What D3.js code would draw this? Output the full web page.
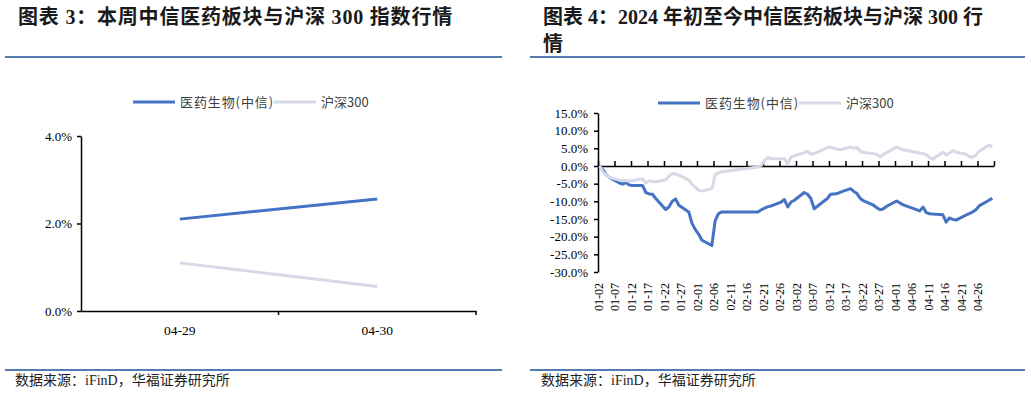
<!DOCTYPE html>
<html lang="zh">
<head>
<meta charset="UTF-8">
<title>中信医药板块与沪深300行情</title>
<script src="https://d3js.org/d3.v7.min.js"></script>
<style>
  body { margin: 0; background: #fff; }
  svg { display: block; font-family: "Liberation Serif", "Noto Sans CJK SC", serif; }
  .title { font-size: 20px; font-weight: bold; fill: #1a1a1a; font-family: "Liberation Serif", "Noto Sans CJK SC", serif; }
  .source { font-size: 14px; fill: #222; font-family: "Liberation Serif", "Noto Sans CJK SC", serif; }
  .rule { stroke: #1c4f9c; stroke-width: 1.3px; }
  .axis path, .axis line { stroke: #000; stroke-width: 1.5px; }
  .axis text { font-family: "Liberation Serif", serif; fill: #000; }
  .legend text { font-family: "Noto Sans CJK SC", sans-serif; font-size: 13px; fill: #404040; }
  .line { fill: none; stroke-width: 3px; stroke-linejoin: round; }
</style>
</head>
<body>
<script>
// ---- data ----
const seriesNames = ["医药生物(中信)", "沪深300"];
const seriesColors = ["#4472c4", "#d6dae6"];

// 图表3: this week
const weekCats = ["04-29", "04-30"];
const weekPharma = [2.10, 2.56];
const weekHs300 = [1.10, 0.56];
const weekYTicks = [0, 2, 4];

// 图表4: 2024 year to date (trading days)
const ytdDates = [
  "01-02","01-03","01-04","01-05","01-08","01-09","01-10","01-11","01-12","01-15",
  "01-16","01-17","01-18","01-19","01-22","01-23","01-24","01-25","01-26","01-29",
  "01-30","01-31","02-01","02-02","02-05","02-06","02-07","02-08","02-19","02-20",
  "02-21","02-22","02-23","02-26","02-27","02-28","02-29","03-01","03-04","03-05",
  "03-06","03-07","03-08","03-11","03-12","03-13","03-14","03-15","03-18","03-19",
  "03-20","03-21","03-22","03-25","03-26","03-27","03-28","03-29","04-01","04-02",
  "04-03","04-08","04-09","04-10","04-11","04-12","04-15","04-16","04-17","04-18",
  "04-19","04-22","04-23","04-24","04-25","04-26","04-29","04-30"
];
const ytdPharma = [
  0.0, -1.1, -2.5, -3.3, -4.8, -5.1, -4.7, -5.4, -5.5, -5.5,
  -7.5, -7.9, -8.0, -9.2, -12.3, -11.6, -10.0, -9.3, -11.1, -13.0,
  -16.3, -18.0, -19.3, -21.0, -22.5, -15.5, -13.5, -13.0, -13.0, -12.4,
  -11.9, -11.5, -11.3, -10.2, -9.5, -11.6, -10.2, -9.7, -7.5, -8.0,
  -9.2, -12.1, -11.4, -9.2, -8.0, -7.9, -7.8, -7.4, -6.4, -7.2,
  -7.8, -9.2, -9.9, -11.1, -11.8, -12.4, -12.1, -11.4, -9.9, -10.5,
  -11.0, -12.7, -11.6, -13.2, -13.5, -13.6, -13.8, -15.9, -14.7, -15.1,
  -15.3, -13.9, -13.5, -13.0, -12.4, -11.3, -9.7, -9.1
];
const ytdHs300 = [
  0.0, -1.7, -2.6, -3.3, -4.0, -4.1, -4.2, -4.2, -4.2, -3.6,
  -4.8, -4.2, -4.3, -4.5, -3.9, -2.9, -2.2, -2.2, -2.6, -4.0,
  -5.2, -6.0, -6.9, -7.1, -6.4, -2.5, -1.9, -1.6, -0.3, 0.2,
  1.6, 2.4, 2.1, 2.0, 2.1, 0.5, 2.6, 2.9, 3.7, 4.2,
  3.3, 3.5, 3.9, 5.2, 5.4, 5.0, 4.8, 4.6, 5.4, 5.0,
  5.2, 4.2, 3.8, 3.5, 3.3, 2.5, 3.3, 3.8, 5.4, 4.9,
  4.6, 3.7, 3.5, 3.2, 2.4, 2.0, 3.9, 3.1, 3.7, 4.4,
  3.9, 3.3, 2.7, 2.5, 3.0, 4.2, 5.9, 5.4
];
const ytdYTicks = [15, 10, 5, 0, -5, -10, -15, -20, -25, -30];
const ytdXTickLabels = [
  "01-02","01-07","01-12","01-17","01-22","01-27","02-01","02-06","02-11","02-16",
  "02-21","02-26","03-02","03-07","03-12","03-17","03-22","03-27","04-01","04-06",
  "04-11","04-16","04-21","04-26"
];
const ytdXEnd = "05-01";

const parseDay = s => d3.timeParse("%Y-%m-%d")("2024-" + s);
const pct = d => d.toFixed(1) + "%";

const svg = d3.select("body").append("svg")
  .attr("width", 1031)
  .attr("height", 393);

// ---- titles, rules, source ----
svg.append("text").attr("class", "title").attr("x", 18).attr("y", 24)
  .style("letter-spacing", "0.8px")
  .text("图表 3：本周中信医药板块与沪深 300 指数行情");
svg.append("text").attr("class", "title").attr("x", 543).attr("y", 24)
  .text("图表 4：2024 年初至今中信医药板块与沪深 300 行");
svg.append("text").attr("class", "title").attr("x", 543).attr("y", 51).text("情");

[[5, 502], [530, 1025]].forEach(([x1, x2]) => {
  svg.append("line").attr("class", "rule").attr("x1", x1).attr("x2", x2).attr("y1", 57).attr("y2", 57);
  svg.append("line").attr("class", "rule").attr("x1", x1).attr("x2", x2).attr("y1", 370).attr("y2", 370);
});
svg.append("text").attr("class", "source").attr("x", 15).attr("y", 385).text("数据来源：iFinD，华福证券研究所");
svg.append("text").attr("class", "source").attr("x", 541).attr("y", 385).text("数据来源：iFinD，华福证券研究所");

function legend(x0, y0, gap) {
  const g = svg.append("g").attr("class", "legend").attr("transform", `translate(${x0},${y0})`);
  let x = 0;
  seriesNames.forEach((name, i) => {
    g.append("line").attr("x1", x).attr("x2", x + 42).attr("y1", 0).attr("y2", 0)
      .attr("stroke", seriesColors[i]).attr("stroke-width", 3);
    const t = g.append("text").attr("x", x + 47).attr("y", 4.5).text(name)
      .style("letter-spacing", i === 0 ? "0.9px" : "0px");
    x += 47 + t.node().getComputedTextLength() + gap;
  });
}

// ---- chart 3 ----
{
  const x = d3.scaleBand().domain(weekCats).range([81, 476]);
  const y = d3.scaleLinear().domain([0, 4]).range([311, 136]);

  svg.append("g").attr("class", "axis").attr("transform", "translate(81,0)")
    .call(d3.axisLeft(y).tickValues(weekYTicks).tickSize(4).tickPadding(5).tickFormat(pct).tickSizeOuter(0))
    .selectAll("text").style("font-size", "13px");

  const xa = svg.append("g").attr("class", "axis").attr("transform", "translate(0,311)")
    .call(d3.axisBottom(x).tickSize(0).tickPadding(14).tickSizeOuter(0));
  xa.selectAll("text").style("font-size", "13.5px");
  xa.selectAll(".bound").data(weekCats).enter().append("line")
    .attr("x1", d => x(d) + x.bandwidth()).attr("x2", d => x(d) + x.bandwidth())
    .attr("y1", 0).attr("y2", 4).attr("stroke", "#000").attr("stroke-width", 1.5);

  const line = d3.line().x((d, i) => x(weekCats[i]) + x.bandwidth() / 2).y(d => y(d));
  [weekPharma, weekHs300].forEach((vals, i) => {
    svg.append("path").datum(vals).attr("class", "line")
      .attr("stroke", seriesColors[i]).attr("d", line);
  });

  legend(133, 102, 0);
}

// ---- chart 4 ----
{
  const x = d3.scaleTime().domain([parseDay(ytdDates[0]), parseDay(ytdXEnd)]).range([598, 994]);
  const y = d3.scaleLinear().domain([-30, 15]).range([272, 113]);
  const mid = s => d3.timeHour.offset(parseDay(s), 12);

  svg.append("g").attr("class", "axis").attr("transform", "translate(598,0)")
    .call(d3.axisLeft(y).tickValues(ytdYTicks).tickSize(4).tickPadding(6).tickFormat(pct).tickSizeOuter(0))
    .selectAll("text").style("font-size", "13px");

  const tickDates = ytdXTickLabels.map(parseDay).concat([parseDay(ytdXEnd)]);
  svg.append("g").attr("class", "axis").attr("transform", `translate(0,${y(0)})`)
    .call(d3.axisTop(x).tickValues(tickDates).tickSize(5).tickFormat("").tickSizeOuter(0));

  const lab = svg.append("g").attr("class", "axis").attr("transform", "translate(0,283)")
    .call(d3.axisBottom(x).tickValues(ytdXTickLabels.map(parseDay)).tickSize(0)
      .tickFormat(d3.timeFormat("%m-%d")));
  lab.select(".domain").remove();
  lab.selectAll("text").style("font-size", "12px")
    .attr("transform", "rotate(-90)").attr("text-anchor", "end")
    .attr("x", 0).attr("y", 0).attr("dy", "0.35em");

  const line = d3.line().x((d, i) => x(mid(ytdDates[i]))).y(d => y(d));
  [ytdPharma, ytdHs300].forEach((vals, i) => {
    svg.append("path").datum(vals).attr("class", "line")
      .attr("stroke", seriesColors[i]).attr("stroke-width", 2.6).attr("d", line);
  });

  legend(658, 103, 0);
}
</script>
</body>
</html>
